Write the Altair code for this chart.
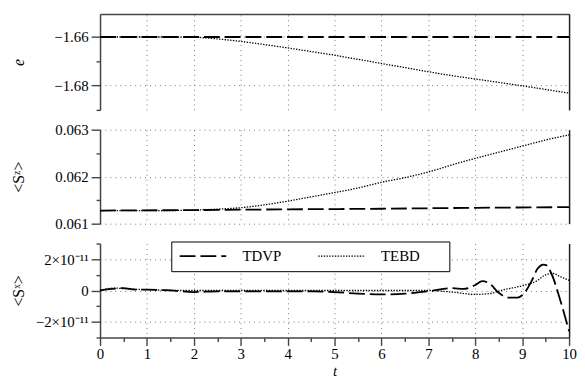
import altair as alt
import pandas as pd

# ---------------- data ----------------
series_names = ["TDVP", "TEBD"]

# panel 1 : energy e
t_e_tdvp = [0, 10]
e_tdvp = [-1.66, -1.66]
t_tebd = [0, 0.5, 1, 1.5, 2, 2.5, 3, 3.5, 4, 4.5, 5, 5.5, 6, 6.5, 7, 7.5, 8, 8.5, 9, 9.5, 10]
e_tebd = [-1.66, -1.66, -1.66, -1.66, -1.6601, -1.6608, -1.6618, -1.6631, -1.6645, -1.666,
          -1.6675, -1.6692, -1.6709, -1.6726, -1.6743, -1.6759, -1.6773, -1.6787, -1.6801,
          -1.6816, -1.6831]

# panel 2 : <S^z>
t_sz_tdvp = [0, 2, 4, 6, 8, 10]
sz_tdvp = [0.061280, 0.061290, 0.061305, 0.061318, 0.061338, 0.061352]
sz_tebd = [0.06128, 0.06128, 0.06128, 0.06128, 0.06129, 0.06131, 0.06134, 0.06140, 0.06148,
           0.06157, 0.06166, 0.06176, 0.06188, 0.06198, 0.06210, 0.06225, 0.06239, 0.06252,
           0.06265, 0.06278, 0.06289]

# panel 3 : <S^x>
t_sx_tdvp = [0, 0.25, 0.5, 0.75, 1, 1.5, 2, 2.5, 3, 3.5, 4, 4.5, 5, 5.5, 6, 6.5, 7, 7.5, 7.75,
             8.0, 8.15, 8.3, 8.5, 8.7, 8.9, 9.05, 9.2, 9.33, 9.45, 9.52, 9.62, 9.82, 10]
sx_tdvp = [0.0, 0.1e-11, 0.15e-11, 0.05e-11, 0.05e-11, 0.0, -0.1e-11, -0.05e-11, -0.05e-11,
           -0.05e-11, -0.05e-11, -0.05e-11, -0.1e-11, -0.2e-11, -0.25e-11, -0.2e-11, -0.05e-11,
           0.15e-11, 0.1e-11, 0.35e-11, 0.6e-11, 0.45e-11, -0.15e-11, -0.45e-11, -0.45e-11,
           -0.15e-11, 0.6e-11, 1.4e-11, 1.65e-11, 1.6e-11, 1.1e-11, -0.7e-11, -2.6e-11]
t_sx_tebd = [0, 0.3, 0.6, 1, 2, 3, 4, 5, 6, 6.5, 7, 7.5, 8, 8.3, 8.6, 9, 9.3, 9.5, 9.65, 9.8, 10]
sx_tebd = [0.0, 0.15e-11, 0.1e-11, 0.05e-11, 0.0, 0.0, 0.0, 0.0, 0.0, 0.0, 0.0, -0.1e-11,
           -0.25e-11, -0.2e-11, 0.05e-11, 0.3e-11, 0.6e-11, 1.0e-11, 1.1e-11, 0.9e-11, 0.65e-11]

# tick values
x_ticks = [i * 0.5 for i in range(21)]
e_ticks = [-1.66, -1.67, -1.68, -1.69]
sz_ticks = [0.063, 0.0625, 0.062, 0.0615, 0.061]
sx_ticks = [-3e-11, -2e-11, -1e-11, 0, 1e-11, 2e-11, 3e-11]


def frame(t1, v1, t2, v2):
    return pd.concat([
        pd.DataFrame({"t": t1, "v": v1, "series": series_names[0]}),
        pd.DataFrame({"t": t2, "v": v2, "series": series_names[1]}),
    ], ignore_index=True)


df_e = frame(t_e_tdvp, e_tdvp, t_tebd, e_tebd)
df_sz = frame(t_sz_tdvp, sz_tdvp, t_tebd, sz_tebd)
df_sx = frame(t_sx_tdvp, sx_tdvp, t_sx_tebd, sx_tebd)

# ---------------- styling ----------------
FONT = "Liberation Serif, Times New Roman, serif"
FS = 15
AX = "#444444"
W = 474

common_axis = dict(
    labelFont=FONT, labelFontSize=FS, labelColor="black",
    titleFont=FONT, titleFontSize=16, titleColor="black", titleFontWeight="normal",
    domainColor=AX, domainWidth=1.5, tickColor=AX, tickWidth=1.4,
    gridColor="#777777", gridDash=[1, 4], gridWidth=1,
    labelFlush=False, labelOverlap=False, labelPadding=3,
)


def y_axis(values, major, title, fmt, label_expr, italic=False):
    kw = dict(common_axis)
    kw.update(
        values=values, labelExpr=label_expr, title=title,
        tickSize={"condition": {"test": major, "value": 9}, "value": 4},
        gridOpacity={"condition": {"test": major, "value": 1}, "value": 0},
        grid=True, titleX=-82, titleBaseline="middle", titleAngle=-90,
    )
    if fmt:
        kw["format"] = fmt
    if italic:
        kw["titleFontStyle"] = "italic"
    return alt.Axis(**kw)


x_major = "abs(datum.value - round(datum.value)) < 1e-6"


def x_axis_hidden(orient="bottom", domain=False):
    kw = dict(common_axis)
    kw.update(values=x_ticks, orient=orient, labels=False, ticks=False, domain=domain,
              title=None, grid=True, minExtent=0,
              gridOpacity={"condition": {"test": x_major, "value": 1}, "value": 0})
    return alt.Axis(**kw)


kw = dict(common_axis)
kw.update(values=x_ticks, title="t", titleFontStyle="italic", titlePadding=2,
          titleFontSize=15, labelPadding=1,
          labelExpr=f"({x_major}) ? format(datum.value, 'd') : ''",
          tickSize={"condition": {"test": x_major, "value": 8}, "value": 4},
          gridOpacity={"condition": {"test": x_major, "value": 1}, "value": 0}, grid=True)
x_axis_bottom = alt.Axis(**kw)

dash_scale = alt.Scale(domain=series_names, range=[[16, 5], [1.4, 1.4]])
width_scale = alt.Scale(domain=series_names, range=[1.8, 1.3])


def panel(df, domain, yax, xax, height, legend):
    xs = alt.Scale(domain=[0, 10], nice=False, zero=False)
    ys = alt.Scale(domain=domain, nice=False, zero=False)
    lines = alt.Chart(df).mark_line(color="black", interpolate="monotone").encode(
        x=alt.X("t:Q", scale=xs, axis=xax),
        y=alt.Y("v:Q", scale=ys, axis=yax),
        strokeDash=alt.StrokeDash("series:N", scale=dash_scale, legend=legend),
        strokeWidth=alt.StrokeWidth("series:N", scale=width_scale, legend=None),
        detail="series:N",
    )
    border = alt.Chart(df).mark_line(opacity=0).encode(
        x=alt.X("t:Q", scale=xs, axis=xax),
        y=alt.Y("v:Q", scale=ys, axis=alt.Axis(orient="right", labels=False, ticks=False,
                                               grid=False, title=None, domain=True,
                                               minExtent=0, maxExtent=0,
                                               domainColor="#222222", domainWidth=1.5)),
        detail="series:N",
    )
    return alt.layer(lines, border).resolve_axis(y="independent").properties(
        width=W, height=height)


major_e = "abs(datum.value + 1.66) < 1e-6 || abs(datum.value + 1.68) < 1e-6"
p1 = panel(
    df_e, [-1.69, -1.6505],
    y_axis(e_ticks, major_e, "e", ".2f", f"({major_e}) ? datum.label : ''", italic=True),
    x_axis_hidden(orient="top", domain=True), 97, legend=None)

major_sz = "abs(datum.value - 0.063) < 1e-7 || abs(datum.value - 0.062) < 1e-7 || abs(datum.value - 0.061) < 1e-7"
p2 = panel(
    df_sz, [0.061, 0.063],
    y_axis(sz_ticks, major_sz, "<Sᶻ>", ".3f", f"({major_sz}) ? datum.label : ''"),
    x_axis_hidden(), 95, legend=None)

major_sx = "abs(datum.value) < 1e-13 || abs(abs(datum.value) - 2e-11) < 1e-13"
sx_label = ("abs(datum.value) < 1e-13 ? '0' : (abs(datum.value - 2e-11) < 1e-13 ? '2×10⁻¹¹' : "
            "(abs(datum.value + 2e-11) < 1e-13 ? '−2×10⁻¹¹' : ''))")
legend = alt.Legend(
    orient="none", legendX=72, legendY=-2, direction="horizontal",
    title=" ", titleOrient="right", titlePadding=23, titleFontSize=15,
    symbolType="M-1,0H6.833", symbolSize=144, symbolStrokeWidth=1.6,
    symbolStrokeColor="black", symbolFillColor="transparent",
    labelFont=FONT, labelFontSize=FS, labelColor="black", labelOffset=50,
    columnPadding=33, padding=7, strokeColor="black", fillColor="white", cornerRadius=0,
)
p3 = panel(
    df_sx, [-3e-11, 3e-11],
    y_axis(sx_ticks, major_sx, "<Sˣ>", None, sx_label),
    x_axis_bottom, 95, legend=legend)

chart = alt.vconcat(p1, p2, p3, spacing=5).resolve_legend(
    strokeDash="independent", strokeWidth="independent"
).resolve_scale(
    x="independent", y="independent", strokeDash="independent", strokeWidth="independent"
).properties(
    padding={"left": 3, "top": 4, "right": 0, "bottom": 0},
    background="white",
).configure_view(stroke=None)

chart.save("out.html", embed_options={"renderer": "svg", "actions": False})
